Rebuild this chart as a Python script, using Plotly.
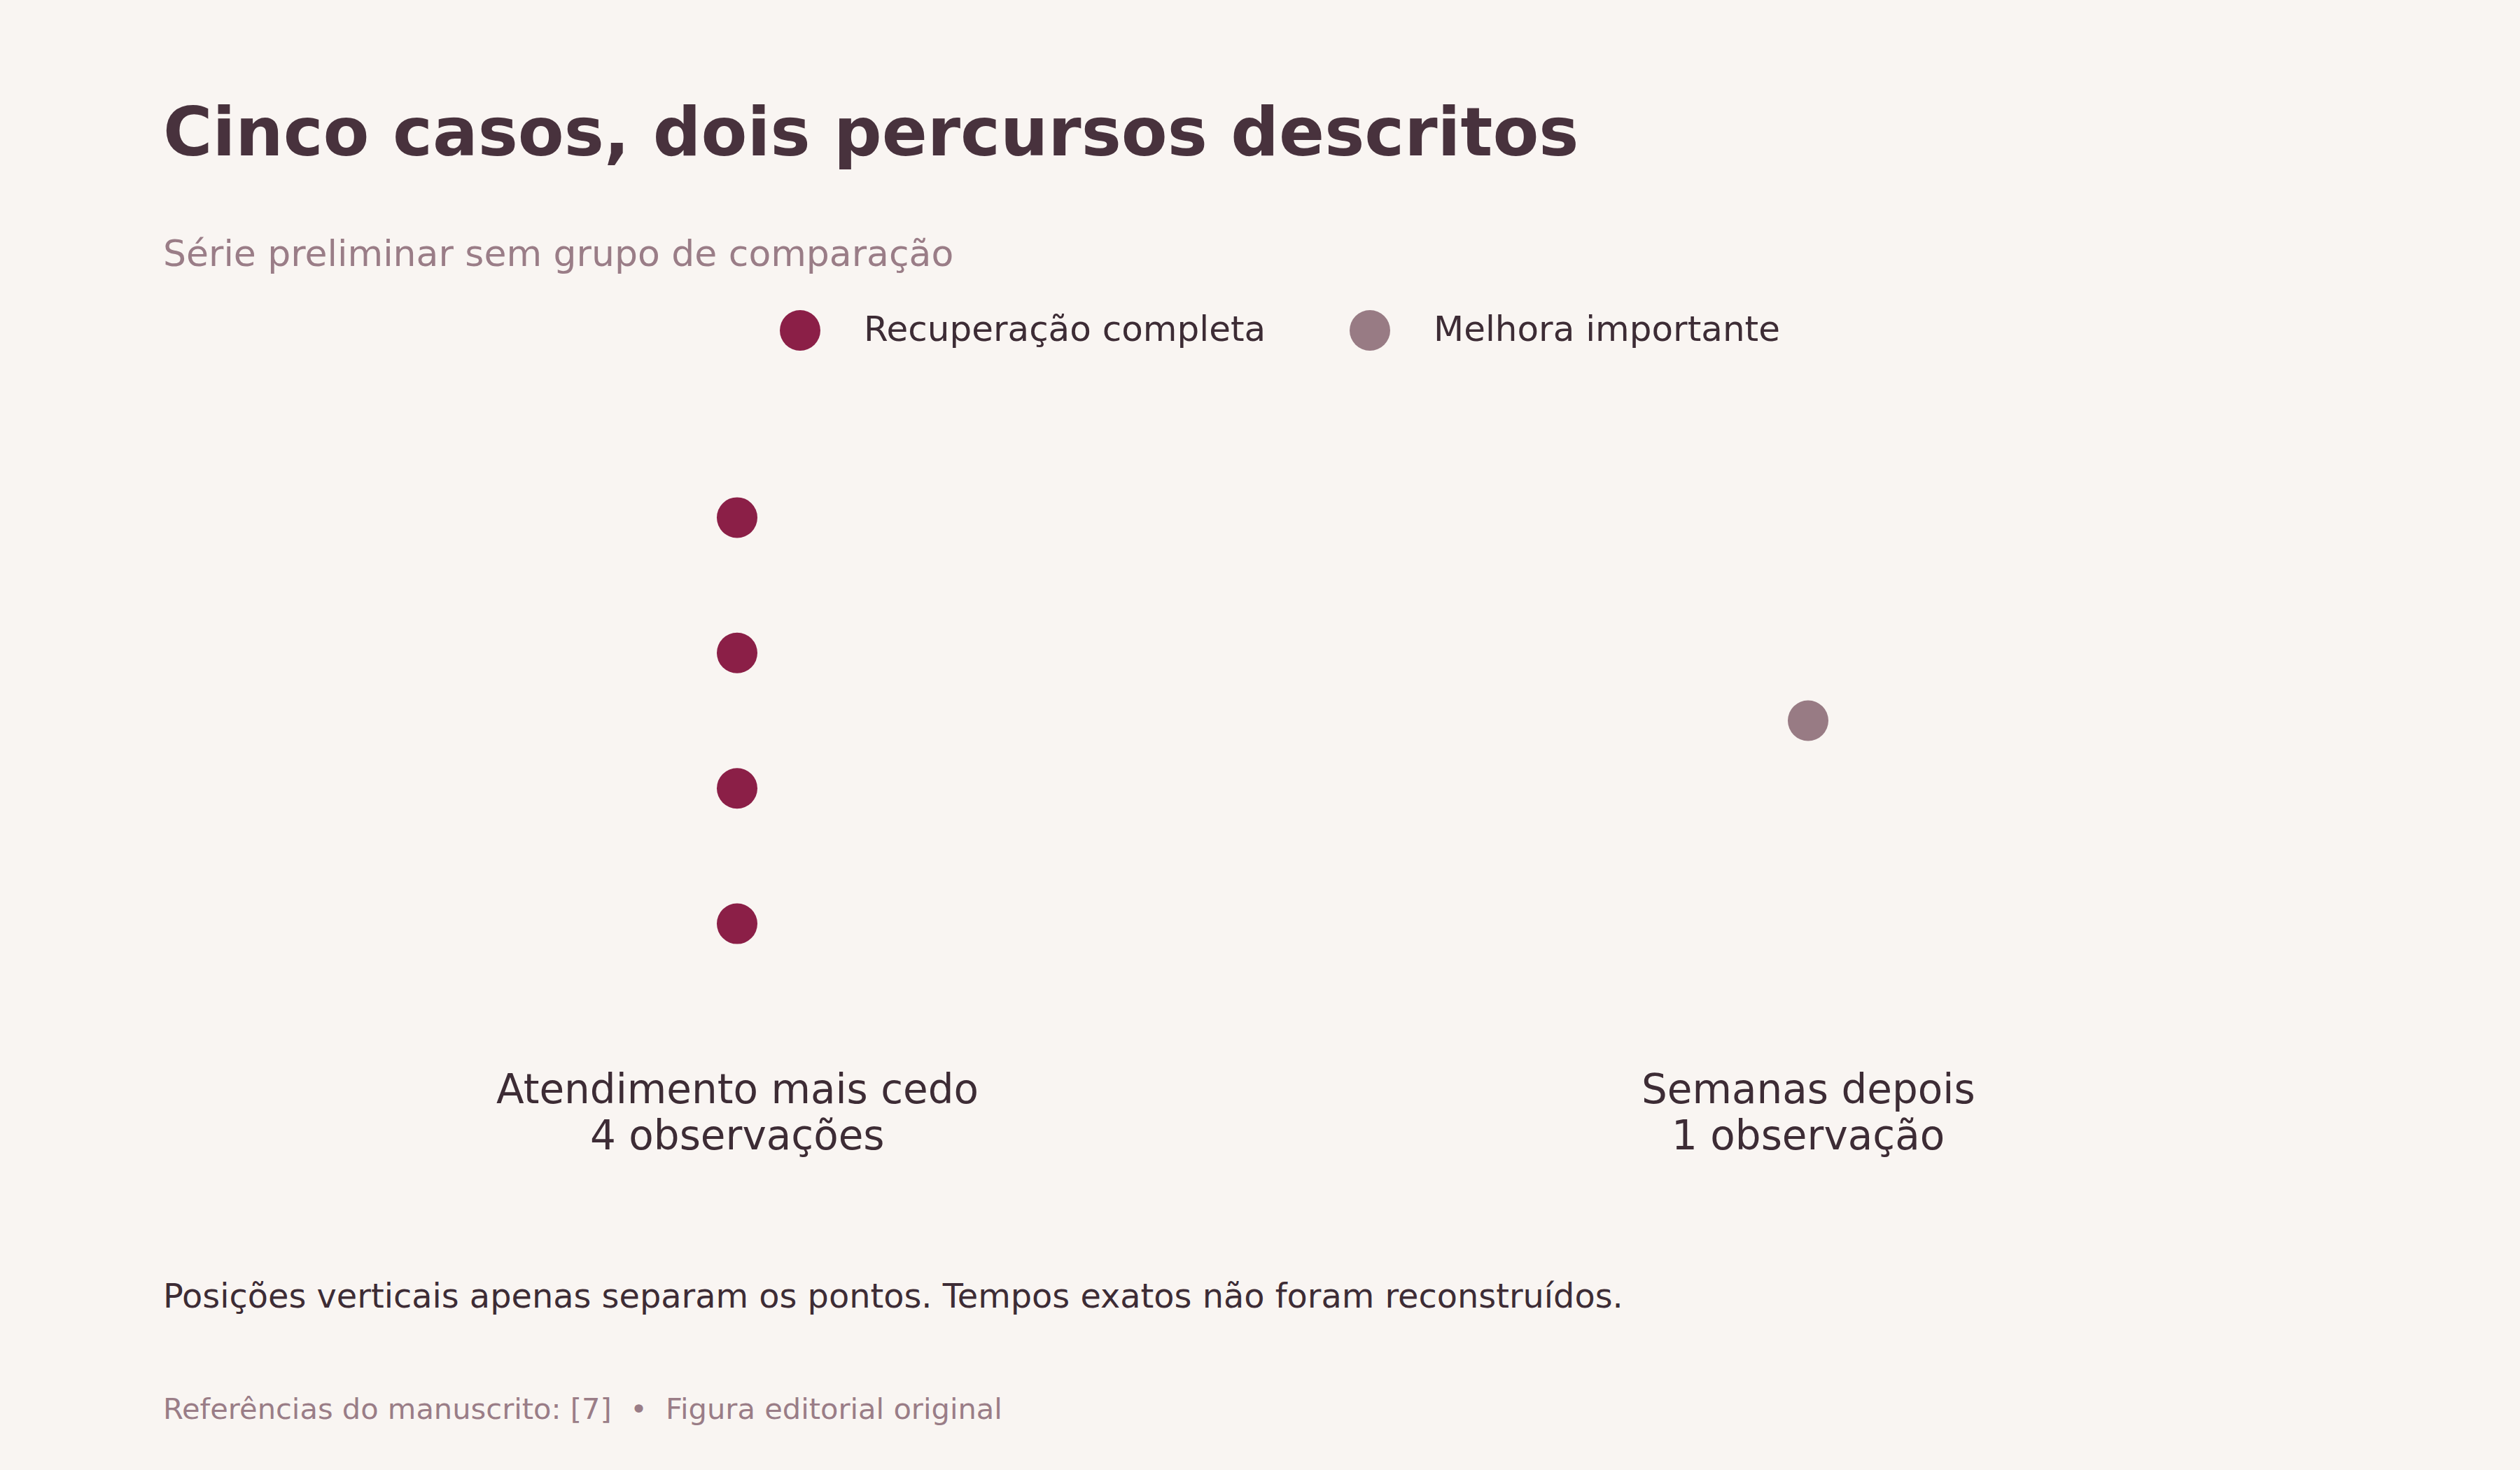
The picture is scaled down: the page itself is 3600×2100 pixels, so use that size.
import plotly.graph_objects as go

# ---- data ----
categories = ["Atendimento mais cedo", "Semanas depois"]
obs_labels = ["4 observações", "1 observação"]
series_names = ["Recuperação completa", "Melhora importante"]
complete_x = ["Atendimento mais cedo"] * 4
complete_y = [1.5, 0.5, -0.5, -1.5]
improve_x = ["Semanas depois"]
improve_y = [0.0]

title = "Cinco casos, dois percursos descritos"
subtitle = "Série preliminar sem grupo de comparação"
note = "Posições verticais apenas separam os pontos. Tempos exatos não foram reconstruídos."
source = "Referências do manuscrito: [7]\u00a0 •\u00a0 Figura editorial original"

# ---- style ----
W, H = 3600, 2100
L, R, T, B = 288, 252, 546, 587
PW, PH = W - L - R, H - T - B
BG = "#F9F5F2"
C_TITLE = "#48323D"
C_MUTED = "#9A7D87"
C_TEXT = "#3D2C35"
C_COMPLETE = "#8B1F47"
C_IMPROVE = "#987B84"
FONT = "DejaVu Sans"
MS = 58


def px(p):
    return (p - L) / PW


def py(p):
    return (H - B - p) / PH


def top_of(baseline, fs):
    return baseline - 2 - 0.928 * fs + 2


fig = go.Figure()
fig.add_trace(go.Scatter(x=complete_x, y=complete_y, mode="markers", name=series_names[0],
                         marker=dict(size=MS, color=C_COMPLETE, line=dict(width=0)),
                         showlegend=False, hoverinfo="skip"))
fig.add_trace(go.Scatter(x=improve_x, y=improve_y, mode="markers", name=series_names[1],
                         marker=dict(size=MS, color=C_IMPROVE, line=dict(width=0)),
                         showlegend=False, hoverinfo="skip"))

ann = []
TX = 231
ann.append(dict(text=f"<b>{title}</b>", x=px(TX), y=py(top_of(220, 96)), xref="paper", yref="paper",
                xanchor="left", yanchor="top", showarrow=False, font=dict(size=96, color=C_TITLE, family=FONT)))
ann.append(dict(text=subtitle, x=px(TX), y=py(top_of(378, 52)), xref="paper", yref="paper",
                xanchor="left", yanchor="top", showarrow=False, font=dict(size=52, color=C_MUTED, family=FONT)))
ann.append(dict(text=note, x=px(TX), y=py(top_of(1866, 47.8)), xref="paper", yref="paper",
                xanchor="left", yanchor="top", showarrow=False, font=dict(size=47.8, color=C_TEXT, family=FONT)))
ann.append(dict(text=source, x=px(TX), y=py(top_of(2025, 41.6)), xref="paper", yref="paper",
                xanchor="left", yanchor="top", showarrow=False, font=dict(size=41.6, color=C_MUTED, family=FONT)))

# category labels (two lines each), placed via the x axis scale
for cat, obs in zip(categories, obs_labels):
    ann.append(dict(text=cat, x=cat, y=py(top_of(1574, 58)), xref="x", yref="paper",
                    xanchor="center", yanchor="top", showarrow=False,
                    font=dict(size=58, color=C_TEXT, family=FONT)))
    ann.append(dict(text=obs, x=cat, y=py(top_of(1640, 58)), xref="x", yref="paper",
                    xanchor="center", yanchor="top", showarrow=False,
                    font=dict(size=58, color=C_TEXT, family=FONT)))

# custom legend
shapes = []
leg = [(series_names[0], C_COMPLETE, 1143, 1232), (series_names[1], C_IMPROVE, 1957, 2046)]
for name, col, cx, tx in leg:
    shapes.append(dict(type="circle", xref="paper", yref="paper", xsizemode="pixel", ysizemode="pixel",
                       xanchor=px(cx), yanchor=py(472), x0=-MS / 2, x1=MS / 2, y0=-MS / 2, y1=MS / 2,
                       fillcolor=col, line=dict(width=0)))
    ann.append(dict(text=name, x=px(tx), y=py(top_of(485, 50)), xref="paper", yref="paper",
                    xanchor="left", yanchor="top", showarrow=False,
                    font=dict(size=50, color=C_TEXT, family=FONT)))

fig.update_layout(
    width=W, height=H,
    paper_bgcolor=BG, plot_bgcolor=BG,
    margin=dict(l=L, r=R, t=T, b=B, pad=0),
    showlegend=False,
    annotations=ann, shapes=shapes,
    font=dict(family=FONT, color=C_TEXT),
    xaxis=dict(type="category", categoryorder="array", categoryarray=categories, range=[-0.5, 1.5],
               showgrid=False, zeroline=False, showline=False, showticklabels=False, ticks=""),
    yaxis=dict(range=[-2.5, 2.5], showgrid=False, zeroline=False, showline=False,
               showticklabels=False, ticks=""),
)

fig.write_html("out.html", config={"displayModeBar": False},
               post_script="document.body.style.margin='0';document.body.style.padding='0';"
                           f"document.body.style.background='{BG}';document.body.style.overflow='hidden';")
